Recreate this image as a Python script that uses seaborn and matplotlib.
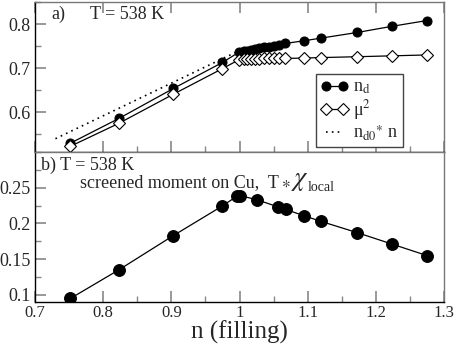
import numpy as np
import matplotlib
matplotlib.use('Agg')
import matplotlib.pyplot as plt
import seaborn as sns
from matplotlib.ticker import MultipleLocator, FormatStrFormatter, FuncFormatter

# --- data ---
# panel a: n_d and mu^2 vs filling
fill_a = [0.752, 0.823, 0.903, 0.975, 0.999, 1.006, 1.011, 1.017, 1.023, 1.029,
          1.036, 1.043, 1.050, 1.058, 1.067, 1.094, 1.119, 1.173, 1.224, 1.275]
n_d = [0.530, 0.586, 0.654, 0.713, 0.736, 0.738, 0.740, 0.741, 0.743, 0.745,
       0.747, 0.749, 0.751, 0.753, 0.756, 0.762, 0.768, 0.781, 0.795, 0.808]
mu2 = [0.523, 0.575, 0.641, 0.699, 0.719, 0.721, 0.721, 0.721, 0.721, 0.721,
       0.722, 0.722, 0.722, 0.722, 0.722, 0.723, 0.724, 0.726, 0.728, 0.730]
n_d0 = 0.74
fill_lin = [0.73, 1.0]

# panel b: screened moment T*chi_local
fill_b = [0.752, 0.823, 0.903, 0.975, 0.996, 1.001, 1.026, 1.057, 1.068, 1.094,
          1.119, 1.173, 1.224, 1.275]
chi_loc = [0.095, 0.135, 0.183, 0.2245, 0.238, 0.239, 0.233, 0.223, 0.2195, 0.211,
           0.203, 0.187, 0.171, 0.155]

sns.set_style('ticks')
plt.rcParams['font.family'] = ['Liberation Serif', 'DejaVu Serif']
plt.rcParams['mathtext.fontset'] = 'stix'

fig = plt.figure(figsize=(4.57, 3.46), dpi=100)
ax_a = fig.add_axes([35/457, 0.5607, 409/457, 0.4335])
ax_b = fig.add_axes([35/457, 0.1272, 409/457, 0.4335])


def style_axes(ax, top_ticks):
    for side in ['top', 'right']:
        ax.spines[side].set_color('#777777')
    for side in ['bottom', 'left']:
        ax.spines[side].set_color('black')
    for sp in ax.spines.values():
        sp.set_linewidth(1.0)
    ax.tick_params(which='both', direction='in', color='#888888',
                   labelsize=13, top=top_ticks, right=False, pad=3)
    ax.tick_params(which='minor', top=False)
    ax.tick_params(which='major', length=8, width=1.2)
    ax.tick_params(which='minor', length=4, width=1.0)
    ax.set_xlim(0.7, 1.3)
    ax.xaxis.set_major_locator(MultipleLocator(0.1))
    ax.xaxis.set_minor_locator(MultipleLocator(0.05))
    ax.set_xlabel('')
    ax.set_ylabel('')


# panel a
fill_dots = np.array(fill_lin)
sns.lineplot(x=fill_a, y=n_d, ax=ax_a, color='black', lw=0.9, marker='o',
             markersize=6.5, markeredgecolor='black', label=r'n$_{\rm d}$')
sns.lineplot(x=fill_a, y=mu2, ax=ax_a, color='black', lw=0.9, marker='D',
             markersize=6, markerfacecolor='white', markeredgecolor='black',
             markeredgewidth=0.8, label='μ$^2$')
sns.lineplot(x=fill_dots, y=n_d0 * fill_dots, ax=ax_a, color='black', lw=1.2,
             linestyle=(0, (1, 2.5)), label=r'n$_{\rm d0}{}^{\ast}$ n')
style_axes(ax_a, True)
ax_a.set_ylim(0.51, 0.85)
ax_a.set_yticks([0.6, 0.7, 0.8])
ax_a.yaxis.set_minor_locator(MultipleLocator(0.05))
ax_a.yaxis.set_major_formatter(FormatStrFormatter('%g'))
ax_a.tick_params(axis='x', labelbottom=False)
ax_a.text(0.04, 0.915, 'a)', transform=ax_a.transAxes, fontsize=13, va='center')
ax_a.text(0.135, 0.915, 'T = 538 K', transform=ax_a.transAxes, fontsize=13, va='center')
leg = ax_a.legend(loc='lower right', bbox_to_anchor=(0.91, 0.0), fontsize=13,
                  frameon=True, fancybox=False, framealpha=1, edgecolor='#444444',
                  handlelength=1.5, handletextpad=0.25, borderpad=0.25,
                  labelspacing=0.1, numpoints=2, borderaxespad=0.25)
leg.get_frame().set_linewidth(1.0)

# panel b
sns.lineplot(x=fill_b, y=chi_loc, ax=ax_b, color='black', lw=0.9, marker='o',
             markersize=8.5, markeredgecolor='black', legend=False)
style_axes(ax_b, False)
ax_b.set_ylim(0.09, 0.3)
ax_b.set_yticks([0.1, 0.15, 0.2, 0.25])
ax_b.yaxis.set_minor_locator(MultipleLocator(0.025))
ax_b.yaxis.set_major_formatter(FormatStrFormatter('%g'))
ax_b.xaxis.set_major_formatter(FuncFormatter(lambda v, p: '%g' % round(v, 2)))
ax_b.tick_params(axis='x', labelsize=12, pad=2)
ax_b.text(0.015, 0.913, 'b) T = 538 K', transform=ax_b.transAxes, fontsize=13, va='center')
t1 = ax_b.text(0.11, 0.793, 'screened moment on Cu,  T', transform=ax_b.transAxes,
               fontsize=13, va='center')
ax_b.set_xlabel('n (filling)', fontsize=18, labelpad=0)

# star, big chi and subscript placed right after the first text
fig.canvas.draw()
inv = ax_b.transAxes.inverted()
x_end = inv.transform(t1.get_window_extent().get_points())[1][0]
ax_b.text(x_end + 0.005, 0.79, r'$\ast$', transform=ax_b.transAxes, fontsize=12, va='center')
t3 = ax_b.text(x_end + 0.03, 0.80, r'$\chi$', transform=ax_b.transAxes, fontsize=19, va='center')
fig.canvas.draw()
x_chi = inv.transform(t3.get_window_extent().get_points())[1][0]
ax_b.text(x_chi - 0.003, 0.765, 'local', transform=ax_b.transAxes, fontsize=10, va='center')

fig.savefig('out.png', dpi=100)
